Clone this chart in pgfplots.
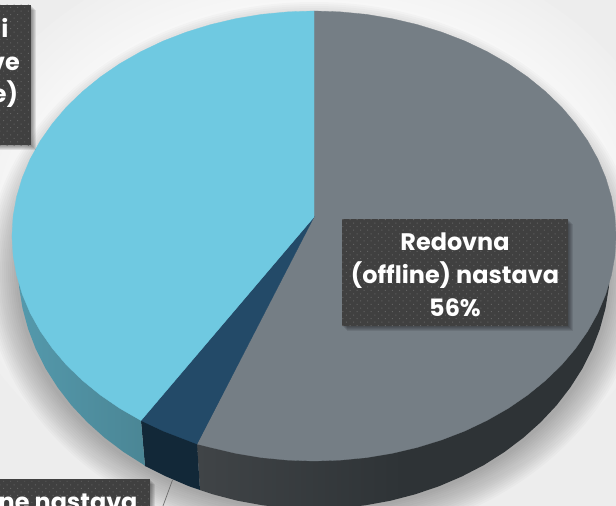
\documentclass[border=0pt]{standalone}
\usepackage{fontspec}
\setmainfont{Poppins}
\usepackage{pgfplots}
\pgfplotsset{compat=1.18}
\usetikzlibrary{patterns.meta}

\definecolor{greytop}{HTML}{757E85}
\definecolor{greyside}{HTML}{2E3336}
\definecolor{greysidel}{HTML}{404447}
\definecolor{navytop}{HTML}{234A68}
\definecolor{navyside}{HTML}{122838}
\definecolor{bluetop}{HTML}{6FC9E1}
\definecolor{bluesidel}{HTML}{5499AC}
\definecolor{bluesider}{HTML}{437682}
\definecolor{boxfill}{HTML}{404040}
\definecolor{boxdot}{HTML}{636363}

% label box with its soft shadow, corners in pixels of the reference
\newcommand{\labelbox}[4]{%
  \pgfplotsinvokeforeach{1,2,3,4,5}{
    \fill[black,opacity=.09] (axis cs:#1+##1,#2+##1) rectangle (axis cs:#3+##1,#4+##1);
  }
  \fill[boxfill] (axis cs:#1,#2) rectangle (axis cs:#3,#4);
  \fill[pattern={Dots[radius=.7bp,distance=5bp,angle=45]},pattern color=boxdot]
    (axis cs:#1,#2) rectangle (axis cs:#3,#4);
}

\begin{document}
\begin{tikzpicture}
\clip (0,0) rectangle (616bp,506bp);
\begin{axis}[
  at={(0,0)}, anchor=south west,
  scale only axis, width=616bp, height=506bp,
  xmin=0, xmax=616, ymin=0, ymax=506,
  y dir=reverse,
  hide axis,
  clip=false,
]
  % background, glow and ground shadow
  \fill[gray!14] (axis cs:0,0) rectangle (axis cs:616,506);
  \pgfplotsinvokeforeach{0,8,...,64}{
    \fill[white,opacity=.12] (axis cs:314,225) ellipse [x radius=302+#1, y radius=225+#1];
  }
  \pgfplotsinvokeforeach{0,2,...,30}{
    \fill[black,opacity=.018] (axis cs:314,272) ellipse [x radius=298+#1, y radius=240+#1];
  }

  % side walls
  \addplot[draw=none, left color=greysidel, right color=greyside, middle color=greyside] coordinates {
    (314,300) (610,266) (608.9,287.2) (605.5,308.2) (599.9,328.9) (592.2,349.1)
    (582.3,368.7) (570.3,387.5) (556.5,405.4) (540.7,422.2) (523.3,437.8) (504.3,452.1)
    (483.8,465.1) (462,476.4) (439.1,486.2) (415.2,494.3) (390.6,500.7) (365.4,505.3)
    (339.8,508.1) (314,509) (288.2,508.1) (262.6,505.3) (237.4,500.7) (212.8,494.3) (200,490)
    (197,444)
  } --cycle;
  \addplot[draw=none, fill=navyside] coordinates {
    (250,380) (197,444) (200,490) (188.9,486.2) (166,476.4) (145,466) (141,421)
  } --cycle;
  \addplot[draw=none, left color=bluesidel, right color=bluesider] coordinates {
    (250,380) (141,421) (145,466) (144.2,465.1) (123.7,452.1) (104.7,437.8) (87.3,422.2)
    (71.5,405.4) (57.7,387.5) (45.7,368.7) (35.8,349.1) (28.1,328.9) (22.5,308.2) (19.1,287.2)
    (18,266)
  } --cycle;

  % top surface
  \addplot[fill=greytop, draw=greytop, line width=.3pt] coordinates {
    (314,217) (314,11) (340.3,11.9) (366.4,14.4) (392.2,18.7) (417.3,24.6) (441.6,32.1)
    (465,41.1) (487.2,51.7) (508.1,63.6) (527.5,76.9) (545.3,91.4) (561.4,106.9) (575.5,123.5)
    (587.7,140.9) (597.8,159) (605.7,177.8) (611.4,196.9) (614.9,216.4) (616,236)
    (614.9,255.6) (611.4,275.1) (605.7,294.2) (597.8,313) (587.7,331.1) (575.5,348.5)
    (561.4,365.1) (545.3,380.6) (527.5,395.1) (508.1,408.4) (487.2,420.3) (465,430.9)
    (441.6,439.9) (417.3,447.4) (392.2,453.3) (366.4,457.6) (340.3,460.1) (314,461)
    (287.7,460.1) (261.6,457.6) (235.8,453.3) (210.7,447.4) (197,444)
  } --cycle;
  \addplot[fill=navytop, draw=navytop, line width=.3pt] coordinates {
    (314,217) (197,444) (186.4,439.9) (163,430.9) (141,420.5)
  } --cycle;
  \addplot[fill=bluetop, draw=bluetop, line width=.3pt] coordinates {
    (314,217) (141,420.5) (119.9,408.4) (100.5,395.1) (82.7,380.6) (66.6,365.1) (52.5,348.5)
    (40.3,331.1) (30.2,313) (22.3,294.2) (16.6,275.1) (13.1,255.6) (12,236) (13.1,216.4)
    (16.6,196.9) (22.3,177.8) (30.2,159) (40.3,140.9) (52.5,123.5) (66.6,106.9) (82.7,91.4)
    (100.5,76.9) (119.9,63.6) (140.8,51.7) (163,41.1) (186.4,32.1) (210.7,24.6) (235.8,18.7)
    (261.6,14.4) (287.7,11.9) (314,11)
  } --cycle;

  % leader line of the cut-off label
  \addplot[draw=gray!85!black, line width=.7pt] coordinates {(172.5,480) (163,506)};

  % labels
  \labelbox{342}{219}{568}{326}
  \node[white, font=\fontsize{24}{33}\selectfont\bfseries, align=center, anchor=center]
    at (axis cs:455,275) {Redovna\\(offline) nastava\\56\%};

  \labelbox{-10}{5}{31}{145}
  \node[white, font=\fontsize{24}{33}\selectfont\bfseries, align=center, anchor=center]
    at (axis cs:5,63) {i\\ve\\e)};

  \labelbox{-10}{479}{150}{520}
  \node[white, font=\fontsize{24}{25}\selectfont\bfseries, anchor=base east]
    at (axis cs:141,510) {ne nastava};
\end{axis}
\end{tikzpicture}
\end{document}
